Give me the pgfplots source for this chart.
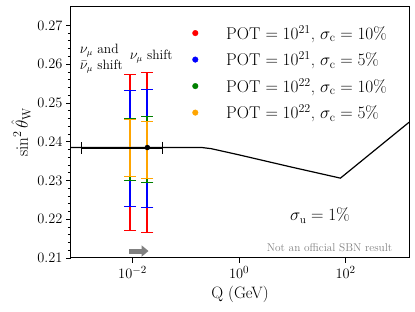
\documentclass[border=0pt]{standalone}
\usepackage{pgfplots}
\pgfplotsset{compat=1.18}
\usetikzlibrary{arrows.meta}
\definecolor{morange}{rgb}{1,0.647,0}
\definecolor{mgreen}{rgb}{0,0.5,0}
\begin{document}
\begin{tikzpicture}
\useasboundingbox (-71pt,-54pt) rectangle (344pt,258pt);
\begin{axis}[
 scale only axis, width=338pt, height=252pt,
 xmode=log, xmin=7e-4, xmax=1550, ymin=0.21, ymax=0.275,
 xtick={0.01,1,100}, xminorticks=false,
 ytick={0.21,0.22,0.23,0.24,0.25,0.26,0.27}, minor y tick num=4,
 yticklabel style={/pgf/number format/.cd, fixed, precision=2, fixed zerofill},
 tick align=outside, xtick pos=bottom, ytick pos=left,
 major tick length=5pt, minor tick length=3pt,
 every tick/.style={black, line width=0.8pt},
 axis line style={line width=1pt},
 tick label style={font=\fontsize{15.5}{18}\selectfont},
 label style={font=\fontsize{16.5}{19}\selectfont},
 xlabel={Q (GeV)}, ylabel={$\sin^2\hat{\theta}_{\mathrm{W}}$},
 legend style={draw=none, fill=none, at={(0.35,0.94)}, anchor=north west,
   font=\fontsize{17}{19}\selectfont, row sep=7pt,
   /tikz/every odd column/.append style={column sep=26pt}},
 legend cell align=left,
 legend image code/.code={\draw[#1] plot coordinates {(0.3cm,0cm)};},
]
% running curve
\addplot[black, line width=1.2pt, forget plot] coordinates {
(7e-4,0.2385) (0.2,0.2385) (0.3,0.2382) (1,0.2366) (10,0.2334) (80,0.2306) (1550,0.2450)};
% error bars
\addplot[red, mark=none, forget plot, error bars/.cd, y dir=both, y explicit,
  error bar style={line width=2pt}, error mark options={rotate=90, line width=1pt, mark size=6pt}]
  coordinates {(0.009,0.2385) += (0,0.0188) -= (0,0.0214)
               (0.019,0.2385) += (0,0.0194) -= (0,0.0220)};
\addplot[blue, mark=none, forget plot, error bars/.cd, y dir=both, y explicit,
  error bar style={line width=2pt}, error mark options={rotate=90, line width=1pt, mark size=6pt}]
  coordinates {(0.009,0.2385) += (0,0.0146) -= (0,0.0151)
               (0.019,0.2385) += (0,0.0150) -= (0,0.0156)};
\addplot[mgreen, mark=none, forget plot, error bars/.cd, y dir=both, y explicit,
  error bar style={line width=2pt}, error mark options={rotate=90, line width=1pt, mark size=6pt}]
  coordinates {(0.009,0.2385) += (0,0.0075) -= (0,0.0085)
               (0.019,0.2385) += (0,0.0079) -= (0,0.0089)};
\addplot[morange, mark=none, forget plot, error bars/.cd, y dir=both, y explicit,
  error bar style={line width=2pt}, error mark options={rotate=90, line width=1pt, mark size=6pt}]
  coordinates {(0.009,0.2385) += (0,0.0071) -= (0,0.0076)
               (0.019,0.2385) += (0,0.0067) -= (0,0.0079)};
% black point with horizontal error bar
\addplot[black, only marks, mark=*, mark size=2.5pt, forget plot, error bars/.cd, x dir=both, x explicit,
  error bar style={line width=2pt}, error mark options={rotate=90, line width=1pt, mark size=6pt}]
  coordinates {(0.019,0.2385) += (0.0173,0) -= (0.01788,0)};
% legend
\addlegendimage{only marks, mark=*, red, mark size=2.8pt}
\addlegendentry{POT $= 10^{21}$, $\sigma_{\mathrm{c}}=10\%$}
\addlegendimage{only marks, mark=*, blue, mark size=2.8pt}
\addlegendentry{POT $= 10^{21}$, $\sigma_{\mathrm{c}}=5\%$}
\addlegendimage{only marks, mark=*, mgreen, mark size=2.8pt}
\addlegendentry{POT $= 10^{22}$, $\sigma_{\mathrm{c}}=10\%$}
\addlegendimage{only marks, mark=*, morange, mark size=2.8pt}
\addlegendentry{POT $= 10^{22}$, $\sigma_{\mathrm{c}}=5\%$}
% annotations
\node[font=\fontsize{13.5}{16}\selectfont, align=left] at (axis cs:0.0026,0.2614) {$\nu_\mu$ and\\$\bar{\nu}_\mu$ shift};
\node[font=\fontsize{13.5}{16}\selectfont] at (axis cs:0.0224,0.2619) {$\nu_\mu$ shift};
\node[font=\fontsize{16}{18}\selectfont] at (axis cs:33,0.2209) {$\sigma_{\mathrm{u}} = 1\%$};
\node[font=\fontsize{11.3}{13}\selectfont, text=gray] at (axis cs:50,0.2126) {Not an official SBN result};
\draw[-{Triangle[length=7pt,width=11pt]}, line width=5pt, gray] (axis cs:0.00875,0.2118) -- (axis cs:0.0200,0.2118);
\end{axis}
\end{tikzpicture}
\end{document}
